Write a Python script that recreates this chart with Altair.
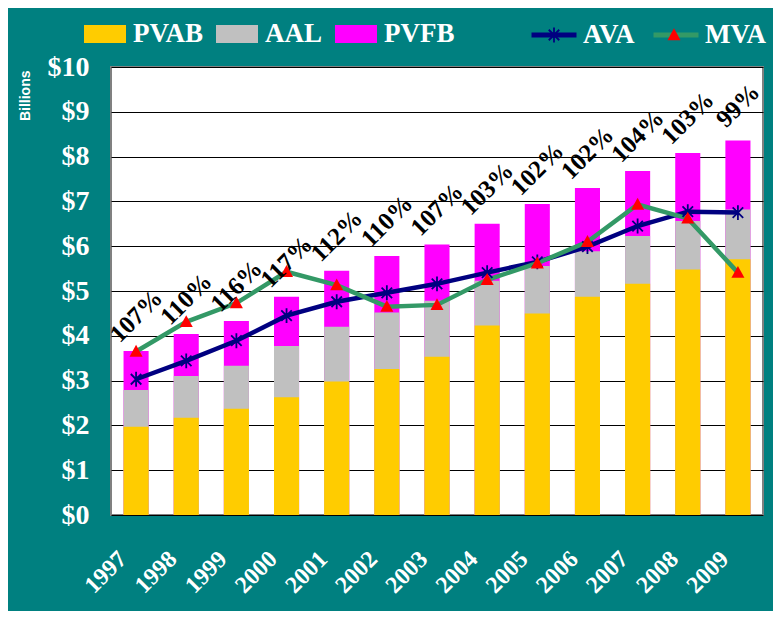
import math
import altair as alt
import pandas as pd

years = ["1997", "1998", "1999", "2000", "2001", "2002", "2003",
         "2004", "2005", "2006", "2007", "2008", "2009"]
pvab = [1.97, 2.17, 2.37, 2.63, 2.98, 3.26, 3.53, 4.23, 4.50, 4.87, 5.16, 5.48, 5.71]
aal = [2.79, 3.10, 3.33, 3.77, 4.20, 4.52, 4.78, 5.23, 5.56, 5.89, 6.23, 6.56, 6.82]
pvfb = [3.66, 4.04, 4.33, 4.87, 5.45, 5.78, 6.04, 6.50, 6.94, 7.30, 7.68, 8.08, 8.36]
ava = [3.03, 3.44, 3.89, 4.45, 4.76, 4.96, 5.16, 5.41, 5.65, 5.99, 6.45, 6.77, 6.75]
mva = [3.65, 4.31, 4.73, 5.43, 5.13, 4.65, 4.69, 5.25, 5.62, 6.10, 6.93, 6.62, 5.41]
funded = ["107%", "110%", "116%", "117%", "112%", "110%", "107%",
          "103%", "102%", "102%", "104%", "103%", "99%"]

bar_names = ["PVAB", "AAL", "PVFB"]
bar_colors = ["#FFCC00", "#C0C0C0", "#FF00FF"]
line_names = ["AVA", "MVA"]
line_colors = ["#000080", "#339966"]

# bars drawn back to front: PVFB, AAL, PVAB
rows = []
for name, vals in [("PVFB", pvfb), ("AAL", aal), ("PVAB", pvab)]:
    for y, v in zip(years, vals):
        rows.append({"year": y, "measure": name, "value": v})
bars_df = pd.DataFrame(rows)

lrows = []
for name, vals in [("AVA", ava), ("MVA", mva)]:
    for y, v in zip(years, vals):
        lrows.append({"year": y, "series": name, "value": v})
lines_df = pd.DataFrame(lrows)
ava_df = pd.DataFrame({"year": years, "value": ava, "mkA": "AVA"})
mva_df = pd.DataFrame({"year": years, "value": mva, "mkM": "MVA"})

lab_df = pd.DataFrame({"year": years, "top": pvfb, "label": funded})

# marker shapes (unit coordinates, size 2025 -> 45px unit box)
def rect_arm(angle_deg, r=0.33, hw=0.04):
    a = math.radians(angle_deg)
    dx, dy = math.cos(a), math.sin(a)
    px, py = -dy * hw, dx * hw
    pts = [(-dx * r + px, -dy * r + py), (dx * r + px, dy * r + py),
           (dx * r - px, dy * r - py), (-dx * r - px, -dy * r - py)]
    return "M" + "L".join(f"{x:.3f},{y:.3f}" for x, y in pts) + "Z"

asterisk = "".join(rect_arm(a) for a in (90, 45, 135))
triangle = "M0,-0.3L0.29,0.23L-0.29,0.23Z"
legend_rect = "M-1,-0.43H1V0.43H-1Z"

serif = "Liberation Serif"
x_enc = alt.X("year:N", sort=years, title=None,
              scale=alt.Scale(paddingInner=0.5, paddingOuter=0.25),
              axis=alt.Axis(labelAngle=315, labelAlign="right", labelBaseline="middle",
                            labelPadding=40, labelOffset=-13, ticks=False, domain=False,
                            labelColor="white", labelFont=serif, labelFontWeight="bold",
                            labelFontSize=24))
y_scale = alt.Scale(domain=[0, 10], nice=False)
y_axis = alt.Axis(values=list(range(11)), labelExpr="'$' + datum.value",
                  ticks=False, domain=False, grid=True, gridColor="black",
                  gridWidth=1, labelColor="white", labelFont=serif,
                  labelFontWeight="bold", labelFontSize=28, labelPadding=22,
                  title="Billions", titleColor="white", titleFont="Liberation Sans",
                  titleFontWeight="bold", titleFontSize=14, titleAngle=270,
                  titleAlign="right", titleBaseline="middle", titleX=-86, titleY=3)

leg_common = dict(orient="none", direction="horizontal", title=None, padding=0,
                  labelColor="white", labelFont=serif, labelFontWeight="bold",
                  labelFontSize=27)

bars = alt.Chart(bars_df).mark_bar().encode(
    x=x_enc,
    y=alt.Y("value:Q", scale=y_scale, axis=y_axis, stack=None),
    color=alt.Color("measure:N", scale=alt.Scale(domain=bar_names, range=bar_colors),
                    legend=alt.Legend(legendX=-27, legendY=-54, symbolType=legend_rect,
                                      symbolSize=1764, symbolStrokeWidth=0,
                                      symbolOpacity=1, labelOffset=7, columnPadding=12,
                                      **leg_common)),
)

line_leg = dict(legendY=-57, symbolSize=2025, symbolStrokeWidth=5,
                labelOffset=4, columnPadding=8, **leg_common)

lines = alt.Chart(lines_df).mark_line(strokeWidth=4.5).encode(
    x=alt.X("year:N", sort=years),
    y=alt.Y("value:Q"),
    stroke=alt.Stroke("series:N", scale=alt.Scale(domain=line_names, range=line_colors),
                      legend=alt.Legend(symbolType="stroke", zindex=1, legendX=418,
                                        **line_leg)),
    order=alt.Order("series:N", sort="ascending"),
)


def marker_layer(df, field, name, color, shape, lx):
    leg = dict(symbolOpacity=1, symbolStrokeColor="transparent", labelOpacity=0,
               zindex=2, legendX=lx, **line_leg)
    return alt.Chart(df).mark_point(filled=True, size=2025, strokeWidth=0,
                                    opacity=1).encode(
        x=alt.X("year:N", sort=years),
        y=alt.Y("value:Q"),
        fill=alt.Fill(f"{field}:N", scale=alt.Scale(domain=[name], range=[color]),
                      legend=alt.Legend(**leg)),
        shape=alt.Shape(f"{field}:N", scale=alt.Scale(domain=[name], range=[shape]),
                        legend=alt.Legend(**leg)),
    )


pts_ava = marker_layer(ava_df, "mkA", "AVA", "#000080", asterisk, 418)
pts_mva = marker_layer(mva_df, "mkM", "MVA", "#FF0000", triangle, 538)

labels = alt.Chart(lab_df).mark_text(angle=315, font=serif, fontWeight="bold",
                                     fontSize=25, color="black", align="center",
                                     baseline="middle", yOffset=-35).encode(
    x=alt.X("year:N", sort=years),
    y=alt.Y("top:Q"),
    text="label:N",
)

chart = alt.layer(bars, lines, pts_ava, pts_mva, labels).resolve_scale(
    color="independent", stroke="independent", fill="independent",
    shape="independent"
).properties(
    width=652, height=448,
    autosize=alt.AutoSizeParams(type="none"),
    padding={"left": 103, "top": 59, "right": 10, "bottom": 96},
    background="#008080",
).configure_view(fill="white", stroke="#808080", strokeWidth=2)

chart.save("out.html", embed_options={"renderer": "svg", "actions": False})
